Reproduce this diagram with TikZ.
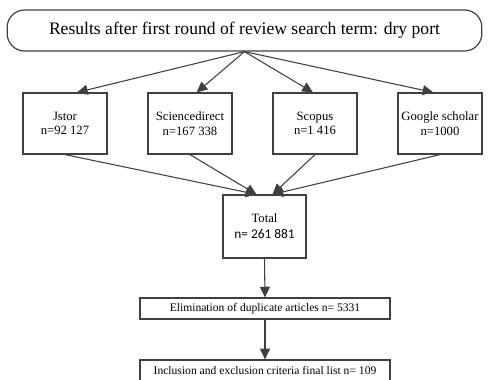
\documentclass[tikz,border=0pt]{standalone}
\usepackage{fontspec}
\setmainfont{Liberation Serif}
\newfontfamily\calfont{Carlito}
\usetikzlibrary{arrows.meta,calc}

\tikzset{
  flowline/.style={draw=black!75, line width=0.8pt},
  flowarrow/.style={flowline, -{Triangle[length=8pt,width=7.5pt]}},
  srcbox/.style={draw=black!75, line width=0.9pt, minimum width=63pt, minimum height=45.75pt, align=center, font=\fontsize{9.5}{11}\selectfont, inner sep=1pt},
  stepbox/.style={draw=black!75, line width=0.9pt, minimum width=187.5pt, minimum height=15.75pt, inner sep=1pt, font=\fontsize{8.7}{10}\selectfont}
}

\begin{document}
\begin{tikzpicture}[x=0.75pt, y=-0.75pt]

\useasboundingbox (0,0) rectangle (489,379);

% top
\node[draw=black!75, line width=0.9pt, rounded corners=13pt, minimum width=356pt, minimum height=30.75pt, font=\fontsize{13.2}{15}\selectfont] (results) at (244.5,30.5) {Results after first round of review search term: dry port};

% databases
\node[srcbox] (jstor)   at (65,123.5)  {Jstor\\n=92 127};
\node[srcbox] (science) at (190,123.5) {Sciencedirect\\n=167 338};
\node[srcbox] (scopus)  at (315,123.5) {Scopus\\n=1 416};
\node[srcbox] (google)  at (440,123.5) {Google scholar\\n=1000};

\draw[flowarrow] (results.south) -- ([xshift=9pt]jstor.north);
\draw[flowarrow] (results.south) -- ([xshift=5pt]science.north);
\draw[flowarrow] (results.south) -- ([xshift=-1.5pt]scopus.north);
\draw[flowarrow] (results.south) -- ([xshift=-5pt]google.north);

% total
\node[draw=black!75, line width=0.9pt, minimum width=62.25pt, minimum height=47.25pt, align=center, inner sep=1pt] (total) at (264.5,226.5) {{\fontsize{9.5}{11}\selectfont Total}\\[0pt]{\calfont\fontsize{10}{12}\selectfont n= 261 881}};

\draw[flowarrow] (jstor.south)   -- ([xshift=-6pt]total.north);
\draw[flowarrow] (science.south) -- ([xshift=-6pt]total.north);
\draw[flowarrow] (scopus.south)  -- ([xshift=6pt]total.north);
\draw[flowarrow] (google.south)  -- ([xshift=6pt]total.north);

% filtering
\node[stepbox] (dupes) at (265,308.5) {Elimination of duplicate articles n= 5331};
\node[stepbox] (final) at (265,370.5) {Inclusion and exclusion criteria final list n= 109};

\draw[flowarrow] (total.south) -- (dupes.north);
\draw[flowarrow] (dupes.south) -- (final.north);

\end{tikzpicture}
\end{document}
